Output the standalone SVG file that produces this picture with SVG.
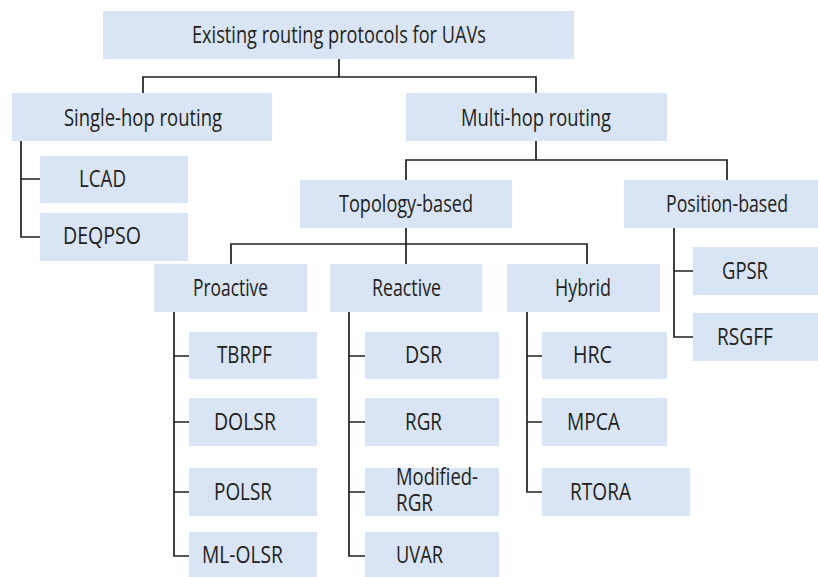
<svg xmlns="http://www.w3.org/2000/svg" width="818" height="577" viewBox="0 0 818 577">
<style>
.b{fill:#d9e4f4}
.t{font-family:"Open Sans","Liberation Sans",sans-serif;font-size:23px;fill:#231f20}
.c{fill:none;stroke:#231f20;stroke-width:1.7}
</style>
<rect width="818" height="577" fill="#ffffff"/>
<g id="connectors" class="c">
<path d="M339 59V77M143 93V77H536V93"/>
<path d="M21 141V237H40M21 179H40"/>
<path d="M536 141V160M406 180V160H727V180"/>
<path d="M406 228V264M231 264V244H587V264"/>
<path d="M674 228V337H693M674 271H693"/>
<path d="M174 312V556H189M174 356H189M174 422H189M174 492H189"/>
<path d="M349 312V556H365M349 356H365M349 422H365M349 492H365"/>
<path d="M527 312V492H542M527 356H542M527 422H542"/>
</g>
<g id="root"><rect class="b" x="103" y="11" width="471" height="48"/><text class="t" x="192" y="43" textLength="294" lengthAdjust="spacingAndGlyphs">Existing routing protocols for UAVs</text></g>
<g id="single"><rect class="b" x="12" y="93" width="260" height="48"/><text class="t" x="64" y="126" textLength="158" lengthAdjust="spacingAndGlyphs">Single-hop routing</text></g>
<g id="multi"><rect class="b" x="406" y="93" width="261" height="48"/><text class="t" x="461" y="126" textLength="150" lengthAdjust="spacingAndGlyphs">Multi-hop routing</text></g>
<g id="lcad"><rect class="b" x="40" y="156" width="148" height="47"/><text class="t" x="79" y="187" textLength="47" lengthAdjust="spacingAndGlyphs">LCAD</text></g>
<g id="deqpso"><rect class="b" x="40" y="213" width="148" height="48"/><text class="t" x="63" y="244" textLength="78" lengthAdjust="spacingAndGlyphs">DEQPSO</text></g>
<g id="topology"><rect class="b" x="300" y="180" width="212" height="48"/><text class="t" x="339" y="212" textLength="134" lengthAdjust="spacingAndGlyphs">Topology-based</text></g>
<g id="position"><rect class="b" x="624" y="180" width="194" height="48"/><text class="t" x="666" y="212" textLength="122" lengthAdjust="spacingAndGlyphs">Position-based</text></g>
<g id="gpsr"><rect class="b" x="693" y="247" width="125" height="48"/><text class="t" x="722" y="279" textLength="46" lengthAdjust="spacingAndGlyphs">GPSR</text></g>
<g id="rsgff"><rect class="b" x="693" y="313" width="125" height="48"/><text class="t" x="717" y="345" textLength="56" lengthAdjust="spacingAndGlyphs">RSGFF</text></g>
<g id="proactive"><rect class="b" x="154" y="264" width="153" height="48"/><text class="t" x="193" y="296" textLength="75" lengthAdjust="spacingAndGlyphs">Proactive</text></g>
<g id="reactive"><rect class="b" x="330" y="264" width="152" height="48"/><text class="t" x="372" y="296" textLength="69" lengthAdjust="spacingAndGlyphs">Reactive</text></g>
<g id="hybrid"><rect class="b" x="507" y="264" width="153" height="48"/><text class="t" x="555" y="296" textLength="56" lengthAdjust="spacingAndGlyphs">Hybrid</text></g>
<g id="tbrpf"><rect class="b" x="189" y="332" width="128" height="47"/><text class="t" x="217" y="363" textLength="55" lengthAdjust="spacingAndGlyphs">TBRPF</text></g>
<g id="dolsr"><rect class="b" x="189" y="398" width="128" height="48"/><text class="t" x="214" y="430" textLength="62" lengthAdjust="spacingAndGlyphs">DOLSR</text></g>
<g id="polsr"><rect class="b" x="189" y="468" width="128" height="48"/><text class="t" x="214" y="500" textLength="58" lengthAdjust="spacingAndGlyphs">POLSR</text></g>
<g id="mlolsr"><rect class="b" x="189" y="532" width="128" height="45"/><text class="t" x="202" y="563" textLength="81" lengthAdjust="spacingAndGlyphs">ML-OLSR</text></g>
<g id="dsr"><rect class="b" x="365" y="332" width="134" height="47"/><text class="t" x="405" y="363" textLength="37" lengthAdjust="spacingAndGlyphs">DSR</text></g>
<g id="rgr"><rect class="b" x="365" y="398" width="134" height="48"/><text class="t" x="405" y="430" textLength="37" lengthAdjust="spacingAndGlyphs">RGR</text></g>
<g id="modrgr"><rect class="b" x="365" y="468" width="134" height="48"/><text class="t" x="396" y="485" textLength="82" lengthAdjust="spacingAndGlyphs">Modified-</text><text class="t" x="396" y="511" textLength="37" lengthAdjust="spacingAndGlyphs">RGR</text></g>
<g id="uvar"><rect class="b" x="365" y="532" width="134" height="45"/><text class="t" x="396" y="563" textLength="47" lengthAdjust="spacingAndGlyphs">UVAR</text></g>
<g id="hrc"><rect class="b" x="542" y="332" width="125" height="47"/><text class="t" x="573" y="363" textLength="39" lengthAdjust="spacingAndGlyphs">HRC</text></g>
<g id="mpca"><rect class="b" x="542" y="398" width="125" height="48"/><text class="t" x="567" y="430" textLength="53" lengthAdjust="spacingAndGlyphs">MPCA</text></g>
<g id="rtora"><rect class="b" x="542" y="468" width="148" height="48"/><text class="t" x="570" y="500" textLength="61" lengthAdjust="spacingAndGlyphs">RTORA</text></g>
</svg>
